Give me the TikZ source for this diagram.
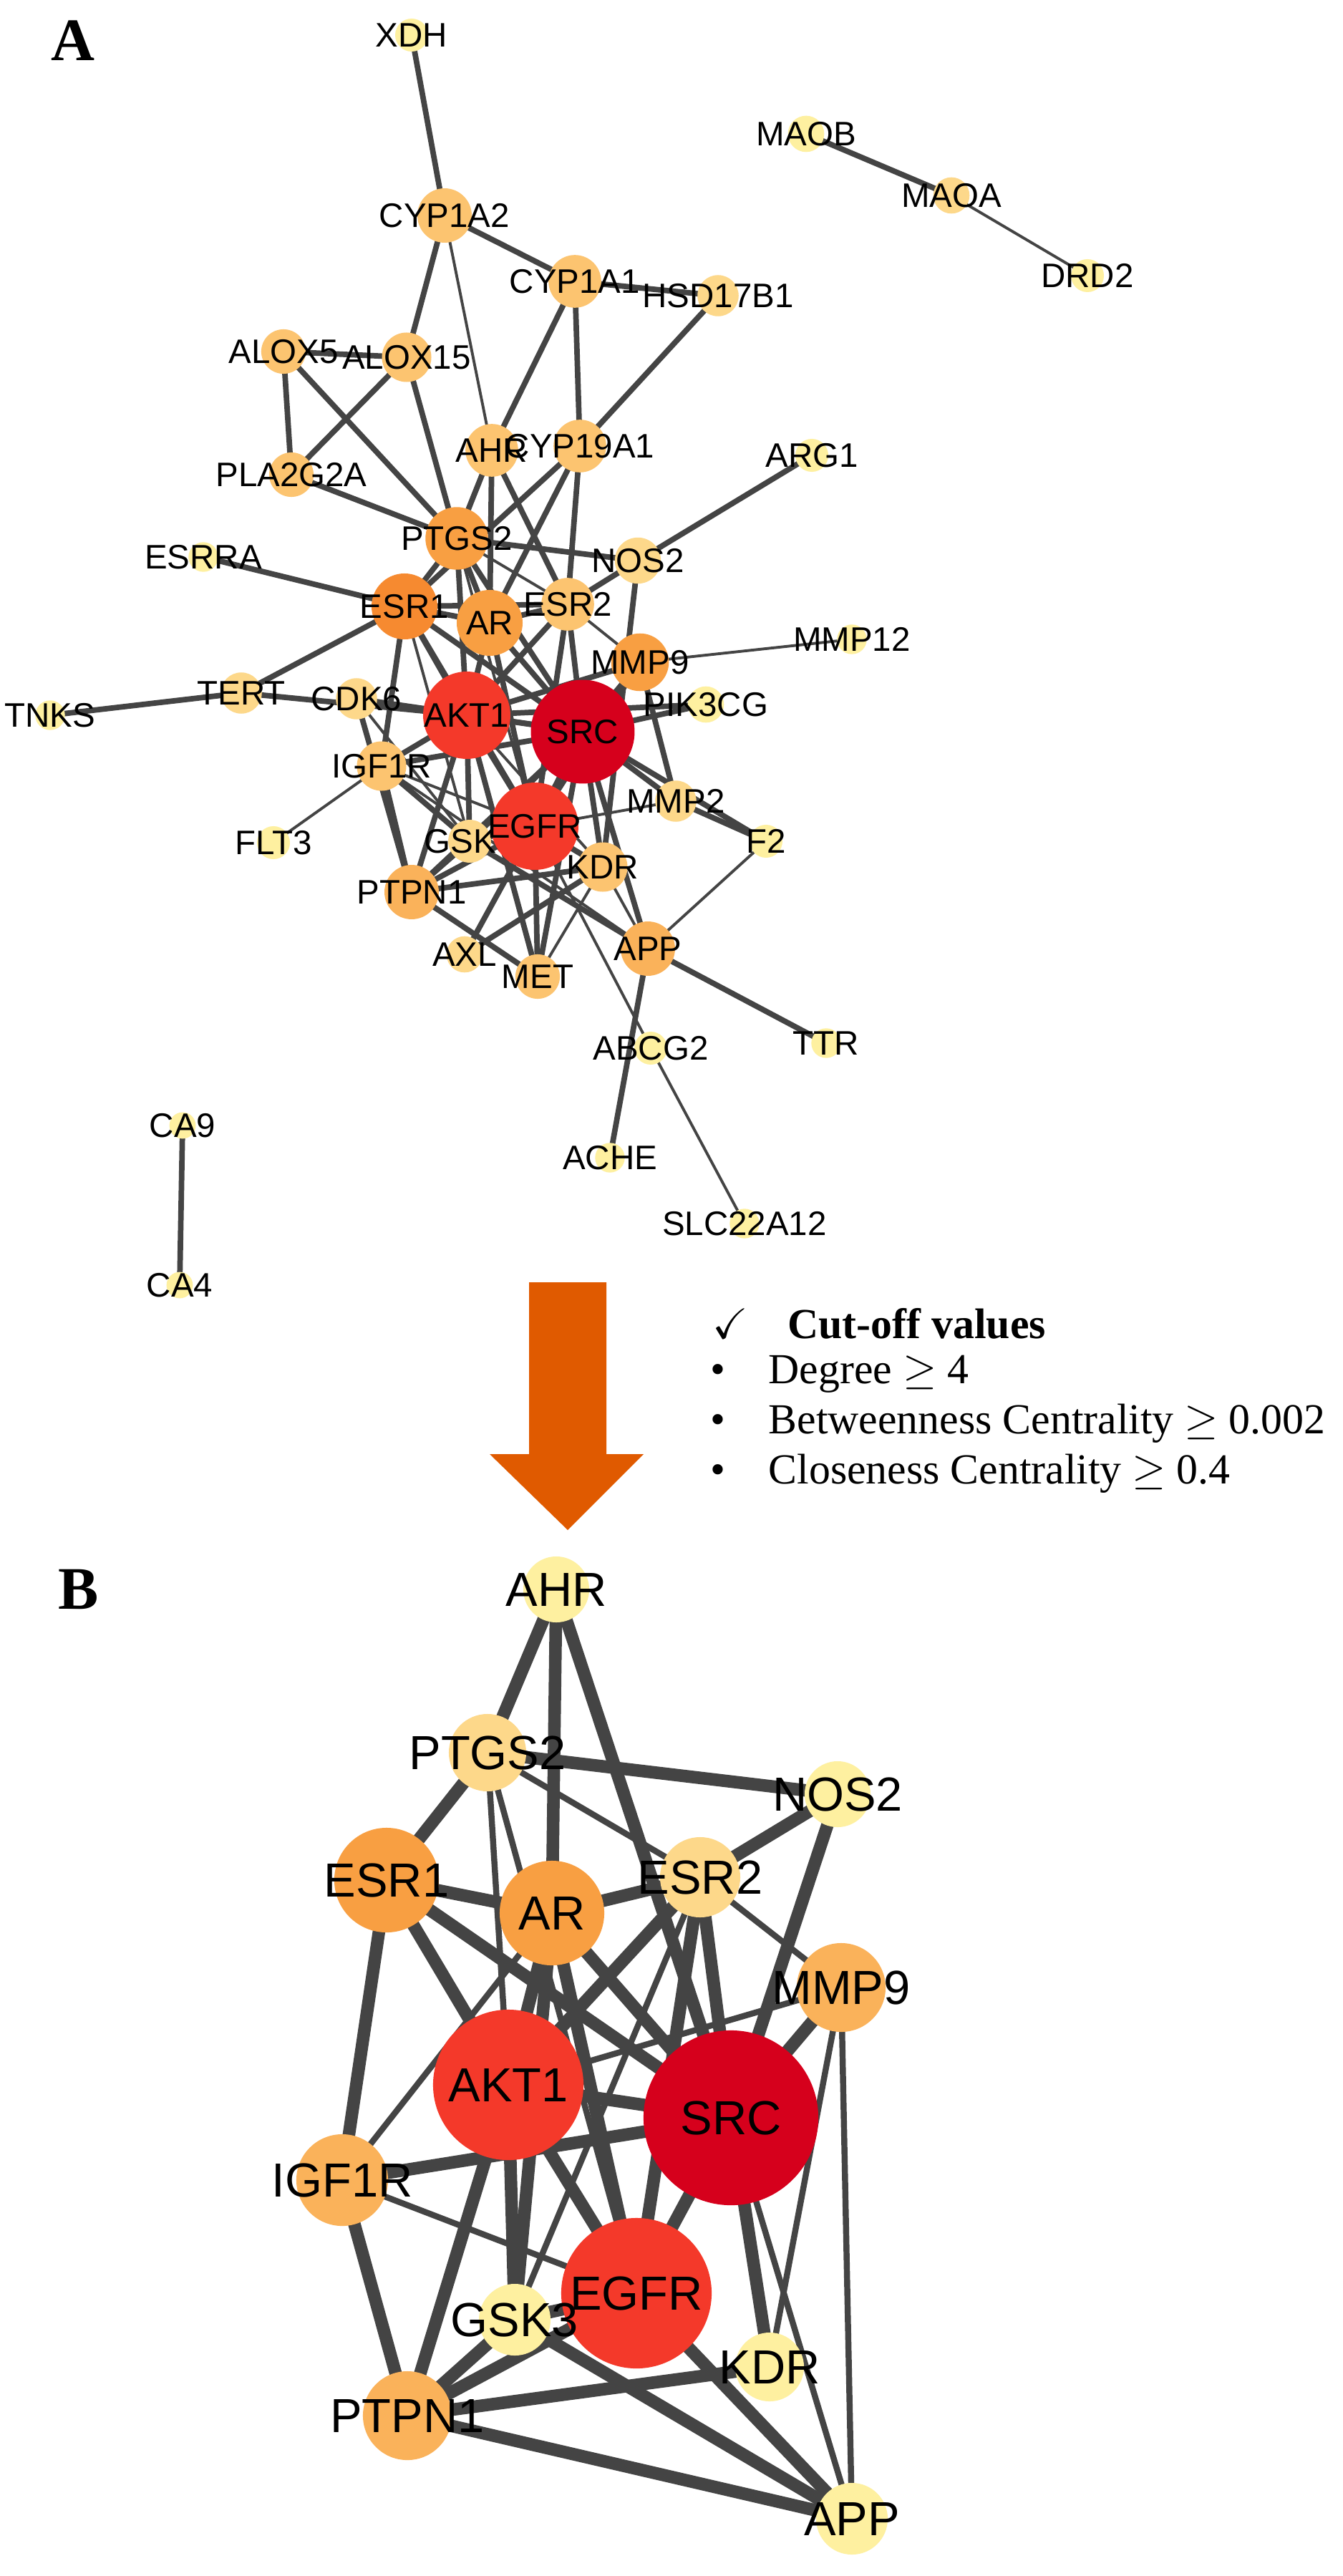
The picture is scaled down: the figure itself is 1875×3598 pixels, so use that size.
\documentclass[tikz,border=0pt]{standalone}
\usepackage{fontspec}
\setmainfont{Liberation Serif}
\newfontfamily\sansf{Liberation Sans}
\usepackage{amssymb}
\usetikzlibrary{backgrounds}
\definecolor{cSRC}{HTML}{D6001C}
\definecolor{cRed}{HTML}{F4392A}
\definecolor{cOrA}{HTML}{F68A30}
\definecolor{cOrB}{HTML}{F89F42}
\definecolor{cOrC}{HTML}{FAB25A}
\definecolor{cMed}{HTML}{FCC470}
\definecolor{cLt}{HTML}{FDD88A}
\definecolor{cPale}{HTML}{FEF0A0}
\definecolor{eC}{HTML}{444444}
\definecolor{arrowC}{HTML}{E05A00}
\tikzset{
  gn/.style={circle, draw=none, inner sep=0pt, text=black},
  fa/.style={font=\sansf\fontsize{13.5}{14}\selectfont, inner sep=0pt},
  fb/.style={font=\sansf\fontsize{19}{20}\selectfont, inner sep=0pt},
  ea/.style={draw=eC, line width=2.2pt},
  eat/.style={draw=eC, line width=1.1pt},
  eb/.style={draw=eC, line width=5pt},
  ebt/.style={draw=eC, line width=2.4pt},
  panel/.style={font=\bfseries\fontsize{24}{26}\selectfont},
  crit/.style={anchor=west, font=\fontsize{17}{19}\selectfont, inner sep=0pt}
}
\newcommand\gA[6]{\node[gn,minimum size=#4*0.023cm,fill=#5,label={[fa]center:#6}] (#1) at (#2,#3) {};}
\newcommand\gB[6]{\node[gn,minimum size=#4*0.02cm,fill=#5,label={[fb]center:#6}] (#1) at (#2,#3) {};}
\begin{document}
\begin{tikzpicture}[x=0.01cm,y=-0.01cm]
\useasboundingbox (0,0) rectangle (1875,3598);
\node[panel] (lA) at (102,57) {A};
\node[panel] (lB) at (110,2220) {B};
% ---------- Panel A nodes
\gA{XDH}{575}{49}{20}{cPale}{XDH}
\gA{CYP1A2}{621}{301}{33}{cMed}{CYP1A2}
\gA{CYP1A1}{803}{393}{32}{cMed}{CYP1A1}
\gA{HSD17B1}{1003}{413}{25}{cLt}{HSD17B1}
\gA{ALOX5}{396}{491}{27}{cMed}{ALOX5}
\gA{ALOX15}{568}{499}{30}{cMed}{ALOX15}
\gA{AHR}{687}{629}{32}{cMed}{AHR}
\gA{CYP19A1}{810}{623}{32}{cMed}{CYP19A1}
\gA{PLA2G2A}{407}{663}{27}{cMed}{PLA2G2A}
\gA{ARG1}{1134}{636}{20}{cPale}{ARG1}
\gA{PTGS2}{638}{752}{38}{cOrB}{PTGS2}
\gA{ESRRA}{284}{778}{18}{cPale}{ESRRA}
\gA{NOS2}{891}{783}{28}{cLt}{NOS2}
\gA{ESR1}{565}{847}{40}{cOrA}{ESR1}
\gA{AR}{684}{870}{40}{cOrB}{AR}
\gA{ESR2}{793}{844}{32}{cMed}{ESR2}
\gA{MMP9}{894}{925}{35}{cOrB}{MMP9}
\gA{MMP12}{1190}{893}{18}{cPale}{MMP12}
\gA{TERT}{337}{968}{25}{cLt}{TERT}
\gA{TNKS}{70}{999}{18}{cPale}{TNKS}
\gA{CDK6}{498}{976}{25}{cLt}{CDK6}
\gA{AKT1}{652}{999}{53}{cRed}{AKT1}
\gA{SRC}{814}{1022}{63}{cSRC}{SRC}
\gA{PIK3CG}{986}{984}{22}{cPale}{PIK3CG}
\gA{IGF1R}{533}{1070}{30}{cMed}{IGF1R}
\gA{MMP2}{944}{1119}{25}{cLt}{MMP2}
\gA{F2}{1070}{1175}{20}{cPale}{F2}
\gA{FLT3}{382}{1177}{20}{cPale}{FLT3}
\gA{GSK3}{656}{1175}{26}{cLt}{GSK3}
\gA{EGFR}{747}{1154}{53}{cRed}{EGFR}
\gA{KDR}{842}{1211}{30}{cMed}{KDR}
\gA{PTPN1}{575}{1246}{33}{cOrC}{PTPN1}
\gA{APP}{905}{1325}{33}{cOrC}{APP}
\gA{AXL}{649}{1333}{22}{cLt}{AXL}
\gA{MET}{751}{1364}{27}{cMed}{MET}
\gA{ABCG2}{909}{1464}{20}{cPale}{ABCG2}
\gA{TTR}{1154}{1457}{18}{cPale}{TTR}
\gA{ACHE}{852}{1617}{18}{cPale}{ACHE}
\gA{SLC}{1040}{1709}{18}{cPale}{SLC22A12}
\gA{CA9}{255}{1572}{16}{cPale}{CA9}
\gA{CA4}{251}{1795}{16}{cPale}{CA4}
\gA{MAOB}{1126}{187}{22}{cPale}{MAOB}
\gA{MAOA}{1329}{273}{22}{cLt}{MAOA}
\gA{DRD2}{1519}{385}{20}{cPale}{DRD2}
% ---------- Panel B nodes
\gB{bAHR}{777}{2220}{46}{cPale}{AHR}
\gB{bPTGS2}{681}{2448}{54}{cLt}{PTGS2}
\gB{bNOS2}{1170}{2506}{46}{cPale}{NOS2}
\gB{bESR1}{540}{2626}{73}{cOrB}{ESR1}
\gB{bAR}{771}{2672}{73}{cOrB}{AR}
\gB{bESR2}{978}{2622}{56}{cLt}{ESR2}
\gB{bMMP9}{1175}{2776}{62}{cOrC}{MMP9}
\gB{bAKT1}{710}{2912}{105}{cRed}{AKT1}
\gB{bSRC}{1021}{2958}{122}{cSRC}{SRC}
\gB{bIGF1R}{478}{3045}{64}{cOrC}{IGF1R}
\gB{bEGFR}{889}{3203}{105}{cRed}{EGFR}
\gB{bGSK3}{719}{3240}{50}{cPale}{GSK3}
\gB{bKDR}{1075}{3306}{48}{cPale}{KDR}
\gB{bPTPN1}{569}{3374}{62}{cOrC}{PTPN1}
\gB{bAPP}{1190}{3518}{50}{cPale}{APP}
% ---------- arrow and criteria
\fill[arrowC] (739,1791) -- (847,1791) -- (847,2031) -- (899,2031) -- (793,2137) -- (684,2031) -- (739,2031) -- cycle;
\node[crit] (c0) at (995,1849) {\checkmark\hspace{0.55cm}\textbf{Cut-off values}};
\node[crit] (c1) at (992,1919) {\textbullet\hspace{0.6cm}Degree $\geq$ 4};
\node[crit] (c2) at (992,1988) {\textbullet\hspace{0.6cm}Betweenness Centrality $\geq$ 0.002};
\node[crit] (c3) at (992,2058) {\textbullet\hspace{0.6cm}Closeness Centrality $\geq$ 0.4};
% ---------- edges
\begin{scope}[on background layer]
\fill[white] (0,0) rectangle (1875,3598);
\foreach \a/\b in {XDH/CYP1A2,CYP1A2/CYP1A1,CYP1A2/ALOX15,CYP1A1/HSD17B1,CYP1A1/AHR,CYP1A1/CYP19A1,HSD17B1/CYP19A1,ALOX5/ALOX15,ALOX5/PLA2G2A,ALOX5/PTGS2,ALOX15/PLA2G2A,ALOX15/PTGS2,PLA2G2A/PTGS2,AHR/PTGS2,AHR/AR,AHR/ESR2,CYP19A1/ESR1,CYP19A1/AR,CYP19A1/ESR2,ARG1/NOS2,PTGS2/NOS2,PTGS2/ESR1,PTGS2/AR,PTGS2/AKT1,PTGS2/SRC,ESRRA/ESR1,ESR1/AR,ESR1/ESR2,ESR1/TERT,ESR1/AKT1,ESR1/SRC,ESR1/EGFR,ESR1/IGF1R,AR/ESR2,AR/AKT1,AR/SRC,AR/EGFR,ESR2/SRC,ESR2/AKT1,ESR2/EGFR,NOS2/ESR2,NOS2/KDR,MMP9/SRC,MMP9/AKT1,MMP9/EGFR,MMP9/MMP2,TNKS/TERT,TERT/AKT1,CDK6/SRC,CDK6/PTPN1,AKT1/SRC,AKT1/EGFR,AKT1/IGF1R,AKT1/GSK3,AKT1/PTPN1,AKT1/MET,SRC/EGFR,SRC/PIK3CG,SRC/MMP2,SRC/F2,SRC/KDR,SRC/IGF1R,SRC/PTPN1,SRC/GSK3,SRC/MET,SRC/APP,PIK3CG/AKT1,IGF1R/PTPN1,IGF1R/GSK3,EGFR/GSK3,EGFR/KDR,EGFR/PTPN1,EGFR/MET,EGFR/AXL,GSK3/PTPN1,GSK3/APP,PTPN1/KDR,PTPN1/MET,KDR/AXL,MMP2/F2,APP/TTR,APP/ACHE,CA9/CA4,MAOB/MAOA}
  \draw[ea] (\a.center) -- (\b.center);
\foreach \a/\b in {CYP1A2/AHR,PTGS2/ESR2,PTGS2/EGFR,ESR2/MMP9,MMP12/MMP9,IGF1R/FLT3,IGF1R/EGFR,IGF1R/APP,EGFR/MMP2,KDR/APP,KDR/MET,F2/APP,ABCG2/SLC,EGFR/ABCG2,MAOA/DRD2,CDK6/GSK3,ESR1/GSK3,AKT1/KDR}
  \draw[eat] (\a.center) -- (\b.center);
% panel B
\foreach \a/\b in {bAHR/bPTGS2,bAHR/bAR,bAHR/bSRC,bPTGS2/bNOS2,bPTGS2/bESR1,bESR1/bAR,bAR/bESR2,bESR1/bAKT1,bESR1/bSRC,bESR1/bIGF1R,bAR/bAKT1,bAR/bSRC,bAR/bEGFR,bAR/bGSK3,bESR2/bNOS2,bESR2/bAKT1,bESR2/bSRC,bESR2/bEGFR,bNOS2/bSRC,bMMP9/bSRC,bAKT1/bSRC,bAKT1/bEGFR,bAKT1/bGSK3,bAKT1/bPTPN1,bIGF1R/bSRC,bIGF1R/bPTPN1,bSRC/bEGFR,bSRC/bKDR,bEGFR/bGSK3,bEGFR/bPTPN1,bGSK3/bPTPN1,bPTPN1/bKDR,bGSK3/bAPP,bEGFR/bAPP,bPTPN1/bAPP}
  \draw[eb] (\a.center) -- (\b.center);
\foreach \a/\b in {bPTGS2/bESR2,bPTGS2/bAKT1,bPTGS2/bEGFR,bESR2/bMMP9,bMMP9/bAKT1,bMMP9/bKDR,bIGF1R/bAR,bIGF1R/bEGFR,bSRC/bAPP,bMMP9/bAPP,bESR2/bGSK3}
  \draw[ebt] (\a.center) -- (\b.center);
\end{scope}
\end{tikzpicture}
\end{document}
